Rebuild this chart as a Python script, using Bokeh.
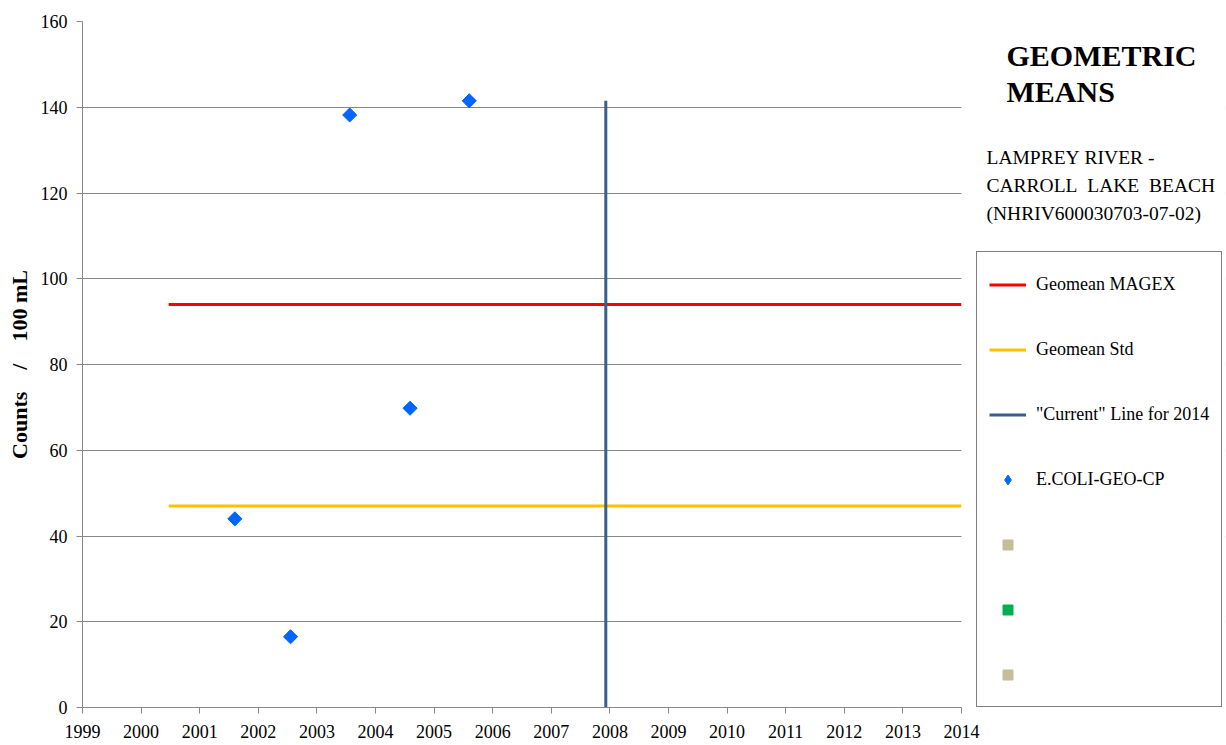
import math
from bokeh.plotting import figure
from bokeh.models import (FixedTicker, Label, Legend, LegendItem, Range1d, BoxAnnotation)
from bokeh.embed import file_html
from bokeh.resources import INLINE

# ---- data ----
years_ticks = list(range(1999, 2015))
y_ticks = [0, 20, 40, 60, 80, 100, 120, 140, 160]

ecoli_x = [2001.6, 2002.55, 2003.56, 2004.59, 2005.6]
ecoli_y = [44.0, 16.5, 138.2, 69.8, 141.5]

magex_x = [2000.47, 2014.0]
magex_y = [94.0, 94.0]

std_x = [2000.47, 2014.0]
std_y = [47.0, 47.0]

current_x = [2007.93, 2007.93]
current_y = [0.0, 141.5]

# empty series shown only in the legend
empty_x = [float("nan")]
empty_y = [float("nan")]

title_lines = ["GEOMETRIC", "MEANS"]
sub_lines = ["LAMPREY RIVER -", "CARROLL  LAKE  BEACH", "(NHRIV600030703-07-02)"]

SERIF = "Liberation Serif"
GRID = "#888888"

X_START, X_END_AXIS = 1999, 2014
X_VIEW_END = 1999 + 1142 / (879 / 15)

p = figure(width=1226, height=745, output_backend="svg", toolbar_location=None,
           x_range=Range1d(X_START, X_VIEW_END), y_range=Range1d(0, 160),
           min_border_left=82, min_border_top=21, min_border_right=2,
           min_border_bottom=38)
p.outline_line_color = None
p.background_fill_color = "white"
p.border_fill_color = "white"

p.xgrid.grid_line_color = None
p.ygrid.grid_line_color = GRID
p.ygrid.grid_line_width = 1

p.xaxis.ticker = FixedTicker(ticks=years_ticks)
p.yaxis.ticker = FixedTicker(ticks=y_ticks)
p.xaxis.bounds = (X_START, X_END_AXIS)
for ax in (p.xaxis[0], p.yaxis[0]):
    ax.axis_line_color = GRID
    ax.major_tick_line_color = GRID
    ax.minor_tick_line_color = None
    ax.major_tick_out = 6
    ax.major_tick_in = 0
    ax.major_label_text_font = SERIF
    ax.major_label_text_font_size = "18px"
    ax.major_label_text_color = "black"
p.xaxis.major_label_standoff = 11
p.yaxis.major_label_standoff = 9
p.yaxis.axis_label = "Counts\u00a0\u00a0\u00a0\u00a0/\u00a0\u00a0\u00a0\u00a0100\u00a0mL"
p.yaxis.axis_label_text_font = SERIF
p.yaxis.axis_label_text_font_style = "bold"
p.yaxis.axis_label_text_font_size = "22px"
p.yaxis.axis_label_text_color = "black"
p.yaxis.axis_label_standoff = 6

# white cover to the right of the 2014 axis end (keeps grid lines inside the chart)
p.add_layout(BoxAnnotation(left=X_END_AXIS, fill_color="white", fill_alpha=1.0,
                           line_color=None, level="glyph"))

r_magex = p.line(magex_x, magex_y, line_color="#FF0000", line_width=3)
r_std = p.line(std_x, std_y, line_color="#FFC000", line_width=3)
r_cur = p.line(current_x, current_y, line_color="#3A5F8E", line_width=3)
r_eco = p.scatter(ecoli_x, ecoli_y, marker="square", size=10, angle=math.pi / 4,
                  fill_color="#0066FF", line_color="#0066FF")
r_eco_leg = p.scatter(empty_x, empty_y, marker="diamond", size=15,
                      fill_color="#0066FF", line_color="#0066FF")
r_t1 = p.scatter(empty_x, empty_y, marker="square", size=10, fill_color="#C4BD97", line_color="#C4BD97")
r_g = p.scatter(empty_x, empty_y, marker="square", size=10, fill_color="#00B050", line_color="#00B050")
r_t2 = p.scatter(empty_x, empty_y, marker="square", size=10, fill_color="#C4BD97", line_color="#C4BD97")

legend = Legend(items=[
    LegendItem(label="Geomean MAGEX", renderers=[r_magex]),
    LegendItem(label="Geomean Std", renderers=[r_std]),
    LegendItem(label="\"Current\" Line for 2014", renderers=[r_cur]),
    LegendItem(label="E.COLI-GEO-CP", renderers=[r_eco_leg]),
    LegendItem(label=" ", renderers=[r_t1]),
    LegendItem(label=" ", renderers=[r_g]),
    LegendItem(label=" ", renderers=[r_t2]),
], location=(894, 0))
legend.label_text_font = SERIF
legend.label_text_font_size = "18px"
legend.label_text_color = "black"
legend.glyph_width = 37
legend.glyph_height = 25
legend.label_height = 40
legend.spacing = 25
legend.padding = 12
legend.label_standoff = 10
legend.border_line_color = "black"
legend.border_line_width = 1
legend.background_fill_color = "white"
legend.background_fill_alpha = 1.0
legend.margin = 0
p.add_layout(legend, "center")

# title texts (screen units relative to frame bottom-left)
title_y = [652, 616]
for t, yy in zip(title_lines, title_y):
    p.add_layout(Label(x=924, y=yy, x_units="screen", y_units="screen",
                       text=t, text_font=SERIF, text_font_style="bold",
                       text_font_size="30px", text_color="black",
                       text_baseline="middle"))
sub_y = [550, 522, 494]
for t, yy in zip(sub_lines, sub_y):
    p.add_layout(Label(x=904, y=yy, x_units="screen", y_units="screen",
                       text=t.replace(" ", "\u00a0"), text_font=SERIF, text_font_size="19.5px",
                       text_color="black", text_baseline="middle"))

open("out.html", "w").write(file_html(p, INLINE))
